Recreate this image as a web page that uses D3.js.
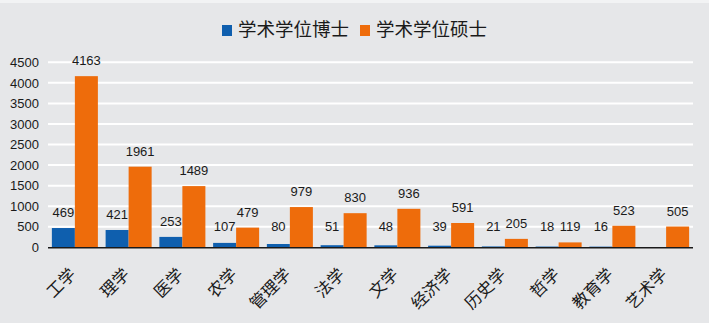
<!DOCTYPE html>
<html>
<head>
<meta charset="utf-8">
<script src="https://cdn.jsdelivr.net/npm/d3@7/dist/d3.min.js"></script>
<style>
  html, body { margin: 0; padding: 0; background: #e6e7e9; }
  svg { display: block; }
</style>
</head>
<body>
<svg id="chart" width="709" height="323"></svg>
<script>
// Academic degree counts by discipline
const categories = ["工学", "理学", "医学", "农学", "管理学", "法学", "文学", "经济学", "历史学", "哲学", "教育学", "艺术学"];
const seriesNames = ["学术学位博士", "学术学位硕士"];
const doctorValues = [469, 421, 253, 107, 80, 51, 48, 39, 21, 18, 16, null];
const masterValues = [4163, 1961, 1489, 479, 979, 830, 936, 591, 205, 119, 523, 505];
const yTicks = [0, 500, 1000, 1500, 2000, 2500, 3000, 3500, 4000, 4500];
const colors = ["#0f5fae", "#ee6c0b"];

const W = 709, H = 323;
const plot = { left: 48, right: 693, top: 62.3, bottom: 247.3 };
const numFont = "'Liberation Sans', Arial, sans-serif";
const cjkFont = "'Noto Sans CJK SC', sans-serif";

const svg = d3.select("#chart");

// background and light top strip
svg.append("rect").attr("width", W).attr("height", H).attr("fill", "#e6e7e9");
svg.append("rect").attr("width", W).attr("height", 3).attr("fill", "#f2f3f4");

const y = d3.scaleLinear().domain([0, 4500]).range([plot.bottom, plot.top]);
const x0 = d3.scaleBand().domain(categories).range([plot.left, plot.right]).padding(0);
const x1 = d3.scaleBand().domain(seriesNames).range([0, x0.bandwidth()])
  .paddingInner(0).paddingOuter(0.168);

// horizontal gridlines
svg.append("g").selectAll("line").data(yTicks.filter(t => t > 0)).join("line")
  .attr("x1", plot.left).attr("x2", plot.right)
  .attr("y1", d => y(d)).attr("y2", d => y(d))
  .attr("stroke", "#ffffff").attr("stroke-width", 2);

// y axis labels
const yAxis = svg.append("g")
  .attr("transform", `translate(${plot.left - 9},0)`)
  .call(d3.axisLeft(y).tickValues(yTicks).tickSize(0).tickPadding(0).tickFormat(d3.format("d")));
yAxis.select(".domain").remove();
yAxis.selectAll("text")
  .attr("font-family", numFont).attr("font-size", 13)
  .attr("fill", "#1a1a1a");

// bars
const rows = categories.map((c, i) => ({
  cat: c,
  vals: [
    { s: seriesNames[0], v: doctorValues[i], k: 0 },
    { s: seriesNames[1], v: masterValues[i], k: 1 }
  ].filter(d => d.v != null)
}));

const groups = svg.append("g").selectAll("g").data(rows).join("g")
  .attr("transform", d => `translate(${x0(d.cat)},0)`);

groups.selectAll("rect").data(d => d.vals).join("rect")
  .attr("x", d => x1(d.s))
  .attr("width", x1.bandwidth())
  .attr("y", d => y(d.v))
  .attr("height", d => y(0) - y(d.v))
  .attr("fill", d => colors[d.k]);

// value labels
groups.selectAll("text").data(d => d.vals).join("text")
  .attr("x", d => x1(d.s) + x1.bandwidth() / 2)
  .attr("y", d => Math.min(y(d.v) - 11, y(0) - 16))
  .attr("text-anchor", "middle")
  .attr("font-family", numFont).attr("font-size", 13)
  .attr("fill", "#1a1a1a")
  .text(d => d.v);

// baseline
svg.append("line")
  .attr("x1", plot.left).attr("x2", plot.right)
  .attr("y1", y(0) + 0.5).attr("y2", y(0) + 0.5)
  .attr("stroke", "#1a1a1a").attr("stroke-width", 1.6);

// category labels, rotated
svg.append("g").selectAll("text").data(categories).join("text")
  .attr("transform", d => `translate(${x0(d) + x0.bandwidth() / 2 + 2},${y(0) + 28}) rotate(-45)`)
  .attr("text-anchor", "end")
  .attr("font-family", cjkFont).attr("font-size", 16.5)
  .attr("fill", "#1a1a1a")
  .text(d => d);

// legend
const legend = svg.append("g");
const legendItems = [
  { name: seriesNames[0], color: colors[0], x: 222 },
  { name: seriesNames[1], color: colors[1], x: 360 }
];
legendItems.forEach(it => {
  legend.append("rect").attr("x", it.x).attr("y", 25).attr("width", 10).attr("height", 11)
    .attr("fill", it.color);
  legend.append("text").attr("x", it.x + 16).attr("y", 36)
    .attr("font-family", cjkFont).attr("font-size", 18.5)
    .attr("fill", "#1a1a1a")
    .text(it.name);
});
</script>
</body>
</html>
